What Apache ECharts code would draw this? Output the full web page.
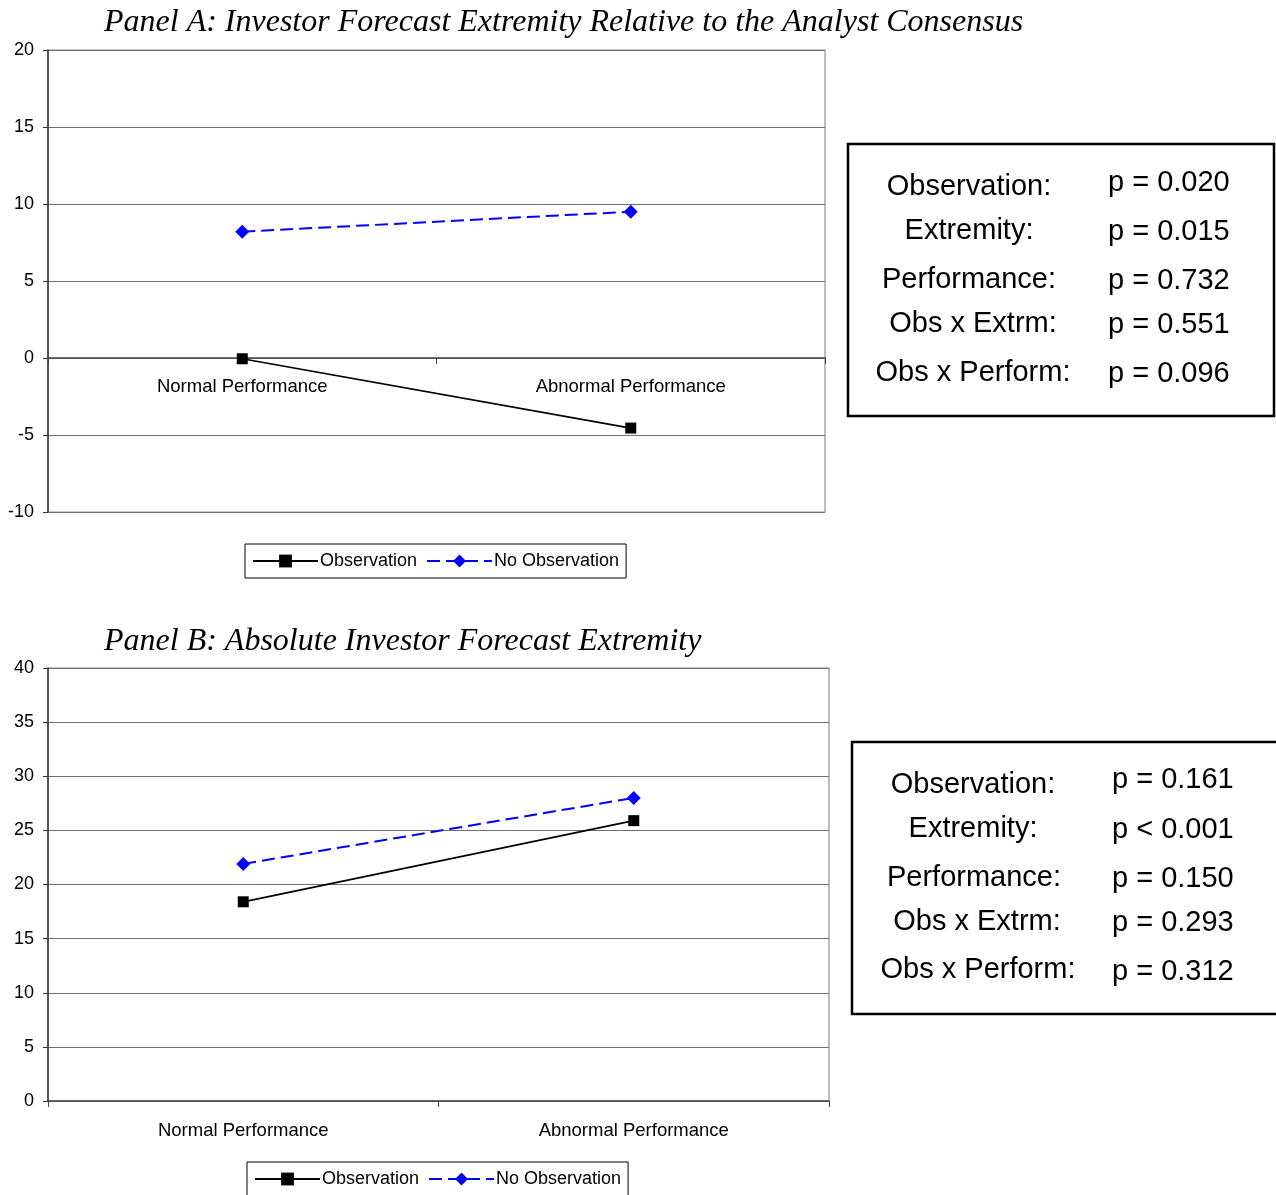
<!DOCTYPE html>
<html><head><meta charset="utf-8">
<script src="https://cdn.jsdelivr.net/npm/echarts@6/dist/echarts.min.js"></script>
<style>html,body{margin:0;padding:0;background:#fff}#c{width:1276px;height:1195px}</style>
</head><body><div id="c"></div>
<script>
// ---- data ----
const categories = ['Normal Performance', 'Abnormal Performance'];
const seriesNames = ['Observation', 'No Observation'];
const panelAObs = [-0.05, -4.55];
const panelANoObs = [8.2, 9.5];
const panelBObs = [18.4, 25.9];
const panelBNoObs = [21.9, 28.0];
const yRangeA = [-10, 20];
const yRangeB = [0, 40];
const titleA = 'Panel A: Investor Forecast Extremity Relative to the Analyst Consensus';
const titleB = 'Panel B: Absolute Investor Forecast Extremity';
const statLabels = ['Observation:', 'Extremity:', 'Performance:', 'Obs x Extrm:', 'Obs x Perform:'];
const statsA = ['p = 0.020', 'p = 0.015', 'p = 0.732', 'p = 0.551', 'p = 0.096'];
const statsB = ['p = 0.161', 'p < 0.001', 'p = 0.150', 'p = 0.293', 'p = 0.312'];

const FONT = 'Liberation Sans, Arial, sans-serif';
const SERIF = 'Liberation Serif, Times New Roman, serif';
const chart = echarts.init(document.getElementById('c'), null, {renderer: 'canvas'});

const gridA = {left: 48, top: 50, width: 777, height: 462};
const gridB = {left: 48, top: 668, width: 781, height: 433};

function yAxis(gi, range) {
  return {
    type: 'value', gridIndex: gi, min: range[0], max: range[1], interval: 5,
    axisLine: {show: true, lineStyle: {color: '#333', width: 1.5}},
    axisTick: {show: true, length: 5, lineStyle: {color: '#333'}},
    axisLabel: {color: '#000', fontSize: 18, fontFamily: FONT, margin: 14},
    splitLine: {show: true, lineStyle: {color: '#707070', width: 1.2}}
  };
}
function xAxis(gi, margin, offset) {
  return {
    type: 'category', gridIndex: gi, data: categories, boundaryGap: true,
    position: 'bottom', offset: offset,
    axisLine: {show: true, onZero: false, lineStyle: {color: '#444', width: 1.5}},
    axisTick: {show: true, length: 6, lineStyle: {color: '#444'}},
    axisLabel: {color: '#000', fontSize: 18.5, fontFamily: FONT, margin: margin},
    splitLine: {show: false}
  };
}
function obsSeries(i, data) {
  return {name: seriesNames[0], type: 'line', xAxisIndex: i, yAxisIndex: i, data: data,
    symbol: 'rect', symbolSize: 11, color: '#000',
    lineStyle: {color: '#000', width: 1.7, type: 'solid'},
    itemStyle: {color: '#000'}, animation: false};
}
function noObsSeries(i, data) {
  return {name: seriesNames[1], type: 'line', xAxisIndex: i, yAxisIndex: i, data: data,
    symbol: 'diamond', symbolSize: 14, color: '#0000ff',
    lineStyle: {color: '#0000ff', width: 2, type: [13, 6]},
    itemStyle: {color: '#0000ff'}, animation: false};
}
function legend(left, top) {
  return {
    data: seriesNames, left: left, top: top, orient: 'horizontal',
    borderColor: '#000', borderWidth: 1, padding: [8, 7, 8, 7], itemGap: 9,
    itemWidth: 65, itemHeight: 16,
    textStyle: {color: '#000', fontSize: 18, fontFamily: FONT, padding: [0, 0, 0, -3]}
  };
}
function statGraphics(x0, y0, w, h, labelCx, valX, labelYs, valYs, values) {
  const g = [{type: 'rect', shape: {x: x0, y: y0, width: w, height: h},
    style: {fill: '#fff', stroke: '#000', lineWidth: 2.5}}];
  statLabels.forEach((t, i) => {
    g.push({type: 'text', x: labelCx[i], y: labelYs[i],
      style: {text: t, fill: '#000', font: '29px ' + FONT, textAlign: 'center', textVerticalAlign: 'middle'}});
    g.push({type: 'text', x: valX, y: valYs[i],
      style: {text: values[i], fill: '#000', font: '29px ' + FONT, textAlign: 'left', textVerticalAlign: 'middle'}});
  });
  return g;
}

// category axis of panel A crosses the value axis at zero
const offsetA = -gridA.height * (0 - yRangeA[0]) / (yRangeA[1] - yRangeA[0]);

const option = {
  animation: false,
  backgroundColor: '#fff',
  title: [
    {text: titleA, left: 99, top: 2, textStyle: {fontFamily: SERIF, fontStyle: 'italic', fontWeight: 'normal', fontSize: 32, color: '#000'}},
    {text: titleB, left: 99, top: 621, textStyle: {fontFamily: SERIF, fontStyle: 'italic', fontWeight: 'normal', fontSize: 32, color: '#000'}}
  ],
  grid: [
    Object.assign({show: true, borderColor: '#909090', borderWidth: 1.2, containLabel: false}, gridA),
    Object.assign({show: true, borderColor: '#909090', borderWidth: 1.2, containLabel: false}, gridB)
  ],
  xAxis: [xAxis(0, 19, offsetA), xAxis(1, 20, 0)],
  yAxis: [yAxis(0, yRangeA), yAxis(1, yRangeB)],
  legend: [legend(245, 544), legend(247, 1162)],
  series: [obsSeries(0, panelAObs), noObsSeries(0, panelANoObs), obsSeries(1, panelBObs), noObsSeries(1, panelBNoObs)],
  graphic: [].concat(
    statGraphics(848, 144, 426, 272, [969, 969, 969, 973, 973], 1108, [187, 231, 280, 324, 373], [183, 232, 281, 325, 374], statsA),
    statGraphics(852, 742, 426, 272, [973, 973, 974, 977, 978], 1112, [785, 829, 878, 922, 970], [780, 830, 879, 923, 972], statsB)
  )
};
chart.setOption(option);
</script></body></html>
